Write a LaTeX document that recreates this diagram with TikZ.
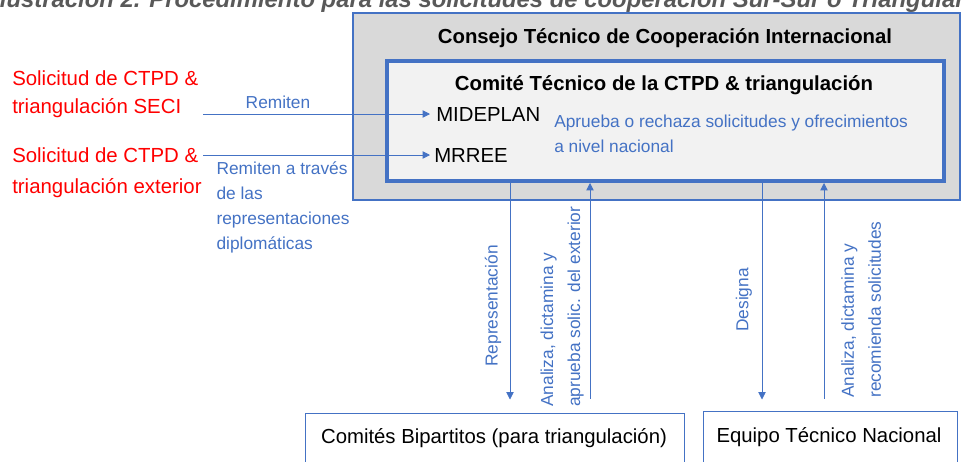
\documentclass[tikz,border=0pt]{standalone}
\usepackage{fontspec}
\setmainfont{Liberation Sans}
\usepackage{xcolor}
\usepackage{tikz}
\usetikzlibrary{positioning,fit,arrows.meta}

\definecolor{ublue}{HTML}{4472C4}
\definecolor{cgray}{HTML}{D9D9D9}
\definecolor{cwhite}{HTML}{F2F2F2}
\definecolor{tgray}{HTML}{595959}

\begin{document}
\begin{tikzpicture}[x=0.75pt, y=-0.75pt,
    big/.style={font=\fontsize{15.25}{18}\selectfont, inner sep=0pt},
    head/.style={inner sep=0pt, font=\fontsize{15.25}{18}\selectfont\bfseries},
    ask/.style={text=red, align=left, anchor=base west, inner sep=0pt},
    note/.style={text=ublue, font=\fontsize{13}{18.75}\selectfont, inner sep=0pt, align=left},
    turned/.style={note, rotate=90, font=\fontsize{13}{20.25}\selectfont},
    flow/.style={draw=ublue, line width=0.6pt, -{Triangle[length=5.5pt,width=5.5pt]}},
    box/.style={draw=ublue, line width=0.75pt, fill=white, inner sep=0pt}]

     \clip (0,0) rectangle (963,461);

     % Boxes
     \node[fit={(353,13) (960,200)}, draw=ublue, line width=1.5pt, fill=cgray, inner sep=0pt] (cons) {};
     \node[fit={(387,61) (944,181)}, draw=ublue, line width=3pt, fill=cwhite, inner sep=0pt] (ctpd) {};
     \node[box, fit={(305,413) (684,490)}] (bip) {};
     \node[box, fit={(703,411) (957,490)}] (etn) {};

     % Define nodes (base = last line)
     \node[anchor=base west, inner sep=0pt, text=tgray, font=\fontsize{17.9}{22}\selectfont\bfseries\itshape] (title) at (-7,7)
          {Ilustración 2. Procedimiento para las solicitudes de cooperación Sur-Sur o Triangular};
     \node[head, anchor=base] (conslbl) at (665,43) {Consejo Técnico de Cooperación Internacional};
     \node[head, anchor=base] (ctpdlbl) at (664,90) {Comité Técnico de la CTPD \& triangulación};
     \node[big, anchor=base west] (mideplan) at (436,121) {MIDEPLAN};
     \node[big, anchor=base west] (mrree) at (434,162) {MRREE};
     \node[note, anchor=base west] (aprueba) at (554,152) {Aprueba o rechaza solicitudes y ofrecimientos\\a nivel nacional};
     \node[ask, font=\fontsize{15.3}{20.7}\selectfont] (seci) at (12,113) {Solicitud de CTPD \&\\triangulación SECI};
     \node[ask, font=\fontsize{15.3}{23}\selectfont] (ext) at (12,193) {Solicitud de CTPD \&\\triangulación exterior};
     \node[big, anchor=base] (biplbl) at (494,443) {Comités Bipartitos (para triangulación)};
     \node[big, anchor=base] (etnlbl) at (829,442) {Equipo Técnico Nacional};

     \coordinate (xrep) at (510,0);
     \coordinate (xanb) at (590,0);
     \coordinate (xdes) at (762,0);
     \coordinate (xane) at (824,0);

     \node[turned] (replbl) at (493,306) {Representación};
     \node[turned, anchor=south west] (anblbl) at (584,407) {Analiza, dictamina y\\aprueba solic. del exterior};
     \node[turned] (deslbl) at (744,300) {Designa};
     \node[turned, anchor=north west] (anelbl) at (841,398) {Analiza, dictamina y\\recomienda solicitudes};

     % Connect the nodes
     \draw[flow] ([xshift=3.5pt]seci.east |- mideplan.west) -- ([xshift=-4.5pt]mideplan.west)
          node[note, pos=0.33, above=4pt] {Remiten};
     \draw[flow] ([xshift=1pt]ext.east |- mrree.west) -- ([xshift=-3pt]mrree.west)
          node[note, pos=0.057, anchor=north west, yshift=-5pt] {Remiten a través\\de las\\representaciones\\diplomáticas};
     \draw[flow, shorten >=9.75pt] (ctpd.south -| xrep) -- (bip.north -| xrep);
     \draw[flow, shorten <=10.5pt] (bip.north -| xanb) -- (ctpd.south -| xanb);
     \draw[flow, shorten >=8.25pt] (ctpd.south -| xdes) -- (etn.north -| xdes);
     \draw[flow, shorten <=9pt] (etn.north -| xane) -- (ctpd.south -| xane);

\end{tikzpicture}
\end{document}
